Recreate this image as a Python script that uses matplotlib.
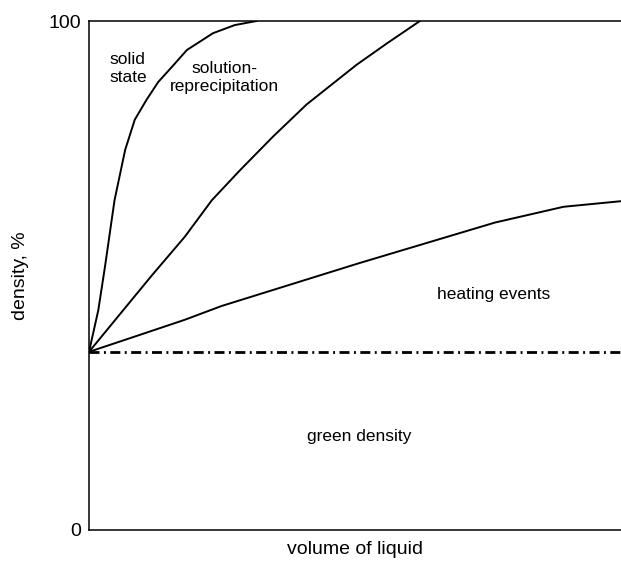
import matplotlib
matplotlib.use("Agg")
import matplotlib.pyplot as plt

# Densification curves (volume of liquid, density %)
green_density = 35

solid_state_x = [0.0, 0.0175, 0.030, 0.048, 0.068, 0.086, 0.108, 0.130, 0.156, 0.184, 0.233, 0.274, 0.315]
solid_state_y = [35.0, 43.2, 51.7, 64.8, 74.7, 80.6, 84.5, 88.0, 91.0, 94.3, 97.6, 99.2, 100.0]

solution_x = [0.0, 0.055, 0.118, 0.180, 0.231, 0.284, 0.346, 0.409, 0.503, 0.560, 0.622]
solution_y = [35.0, 42.0, 50.0, 57.6, 64.8, 70.7, 77.3, 83.6, 91.4, 95.6, 100.0]

heating_x = [0.0, 0.086, 0.180, 0.249, 0.507, 0.635, 0.763, 0.892, 1.0]
heating_y = [35.0, 38.0, 41.3, 44.0, 52.4, 56.4, 60.4, 63.5, 64.6]

y_ticks = [0, 100]
y_tick_labels = ["0", "100"]

plt.rcParams["font.family"] = ["Liberation Sans", "DejaVu Sans"]

fig = plt.figure(figsize=(6.21, 5.62), dpi=100)
ax = fig.add_axes([89 / 621, 32 / 562, 1 - 89 / 621, 509 / 562])

curve_kw = dict(color="black", linewidth=1.4, solid_joinstyle="round")
ax.plot(solid_state_x, solid_state_y, **curve_kw)
ax.plot(solution_x, solution_y, **curve_kw)
ax.plot(heating_x, heating_y, **curve_kw)

ax.axhline(green_density, color="black", linewidth=2.0,
           dashes=(3.6, 1.6, 0.7, 1.6))

ax.set_xlim(0, 1)
ax.set_ylim(0, 100)

ax.set_yticks(y_ticks)
ax.set_yticklabels(y_tick_labels, fontsize=14)
ax.set_xticks([])
ax.tick_params(axis="y", length=0, pad=6)

for side in ("left", "bottom", "top"):
    ax.spines[side].set_linewidth(1.1)
ax.spines["right"].set_visible(False)

ax.set_xlabel("volume of liquid", fontsize=14, labelpad=8)
ax.set_ylabel("density, %", fontsize=14, labelpad=14)

text_kw = dict(fontsize=12.5, ha="center", va="center", linespacing=1.25)
ax.text(0.073, 90.6, "solid\nstate", **text_kw)
ax.text(0.254, 88.9, "solution-\nreprecipitation", **text_kw)
ax.text(0.761, 46.2, "heating events", **text_kw)
ax.text(0.508, 18.4, "green density", **text_kw)

fig.savefig("out.png", dpi=100)
